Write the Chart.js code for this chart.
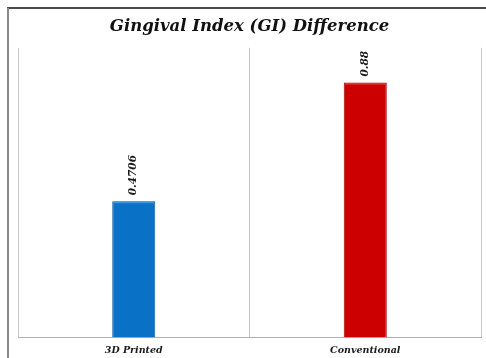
<!DOCTYPE html>
<html>
<head>
<meta charset="utf-8">
<script src="https://cdn.jsdelivr.net/npm/chart.js@4/dist/chart.umd.min.js"></script>
<style>
  html, body { margin: 0; padding: 0; background: #ffffff; }
  #wrap { width: 486px; height: 358px; position: relative; }
</style>
</head>
<body>
<div id="wrap"><canvas id="chart" width="486" height="358"></canvas></div>
<script>
// Gingival Index (GI) difference per appliance group
const categories = ['3D Printed', 'Conventional'];
const giDifference = [0.4706, 0.88];
const valueLabels = ['0.4706', '0.88'];
const barFill = ['#0a72c6', '#cc0000'];
const barEdge = ['#075a9e', '#9e0000'];
const barHighlight = ['#3d95dc', '#e03a3a'];

const serifBI = '"DejaVu Serif", "Liberation Serif", serif';

// Frame: black rule along the top, grey rule down the left side
const framePlugin = {
  id: 'frame',
  beforeDraw(chart) {
    const ctx = chart.ctx;
    ctx.save();
    ctx.fillStyle = '#ffffff';
    ctx.fillRect(0, 0, chart.width, chart.height);
    ctx.strokeStyle = '#111111';
    ctx.lineWidth = 1.5;
    ctx.beginPath();
    ctx.moveTo(7, 8);
    ctx.lineTo(chart.width, 8);
    ctx.stroke();
    ctx.strokeStyle = '#8a8a8a';
    ctx.lineWidth = 2;
    ctx.beginPath();
    ctx.moveTo(8, 8);
    ctx.lineTo(8, chart.height);
    ctx.stroke();
    ctx.restore();
  }
};

// Light top edge on each bar and rotated value labels above them
const barDecorPlugin = {
  id: 'barDecor',
  afterDatasetsDraw(chart) {
    const ctx = chart.ctx;
    const meta = chart.getDatasetMeta(0);
    ctx.save();
    meta.data.forEach((bar, i) => {
      const half = bar.width / 2;
      ctx.strokeStyle = barHighlight[i];
      ctx.lineWidth = 1.5;
      ctx.beginPath();
      ctx.moveTo(bar.x - half + 1.5, bar.y + 1.2);
      ctx.lineTo(bar.x + half - 1.5, bar.y + 1.2);
      ctx.stroke();

      ctx.save();
      ctx.translate(bar.x, bar.y - 6);
      ctx.rotate(-Math.PI / 2);
      ctx.fillStyle = '#1a1a1a';
      ctx.font = 'italic bold 10.5px ' + serifBI;
      ctx.textAlign = 'left';
      ctx.textBaseline = 'middle';
      ctx.fillText(valueLabels[i], 0, 0);
      ctx.restore();
    });
    ctx.restore();
  }
};

new Chart(document.getElementById('chart'), {
  type: 'bar',
  data: {
    labels: categories,
    datasets: [{
      data: giDifference,
      backgroundColor: barFill,
      borderColor: barEdge,
      borderWidth: 1,
      borderSkipped: 'bottom',
      categoryPercentage: 1,
      barPercentage: 0.186
    }]
  },
  options: {
    responsive: false,
    animation: false,
    devicePixelRatio: 1,
    layout: { padding: { left: 18, right: 5, top: 0, bottom: -5 } },
    plugins: {
      legend: { display: false },
      tooltip: { enabled: false },
      title: {
        display: true,
        text: 'Gingival Index (GI) Difference',
        color: '#111111',
        font: { family: serifBI, size: 16.5, weight: 'bold', style: 'italic' },
        padding: { top: 17, bottom: 11 }
      }
    },
    scales: {
      x: {
        offset: true,
        grid: {
          offset: true,
          display: true,
          drawTicks: false,
          color: '#c8c8c8',
          lineWidth: 1
        },
        border: { display: true, color: '#b0b0b0', width: 1 },
        ticks: {
          color: '#1a1a1a',
          padding: 7,
          font: { family: serifBI, size: 9.5, weight: 'bold', style: 'italic' }
        }
      },
      y: {
        display: false,
        min: 0,
        max: 1
      }
    }
  },
  plugins: [framePlugin, barDecorPlugin]
});
</script>
</body>
</html>
